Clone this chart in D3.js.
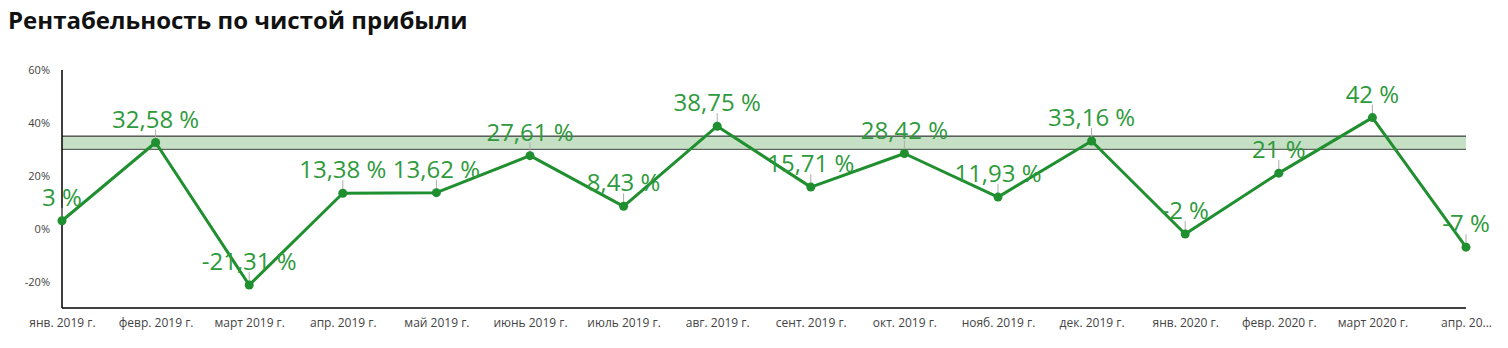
<!DOCTYPE html>
<html>
<head>
<meta charset="utf-8">
<script src="https://cdn.jsdelivr.net/npm/d3@7/dist/d3.min.js"></script>
<style>
  body { margin: 0; background: #fff; }
  svg { display: block; font-family: "Open Sans", "Noto Sans", sans-serif; }
</style>
</head>
<body>
<svg id="chart" width="1508" height="348"></svg>
<script>
// Monthly net profit margin, %
const months = ["янв. 2019 г.", "февр. 2019 г.", "март 2019 г.", "апр. 2019 г.", "май 2019 г.", "июнь 2019 г.",
  "июль 2019 г.", "авг. 2019 г.", "сент. 2019 г.", "окт. 2019 г.", "нояб. 2019 г.", "дек. 2019 г.",
  "янв. 2020 г.", "февр. 2020 г.", "март 2020 г.", "апр. 2020 г."];
const margin = [3, 32.58, -21.31, 13.38, 13.62, 27.61, 8.43, 38.75, 15.71, 28.42, 11.93, 33.16, -2, 21, 42, -7];
const yTicks = [-20, 0, 20, 40, 60];
const targetBand = [30, 35];

const svg = d3.select("#chart");
const plotLeft = 62, plotRight = 1466, plotTop = 70, plotBottom = 308;

const x = d3.scalePoint().domain(months).range([plotLeft, plotRight]);
const y = d3.scaleLinear().domain([-30, 60]).range([plotBottom, plotTop]);

svg.append("text")
  .attr("x", 8).attr("y", 29)
  .attr("font-size", 24).attr("font-weight", 700).attr("fill", "#111")
  .text("Рентабельность по чистой прибыли");

// target band
svg.append("rect")
  .attr("x", plotLeft).attr("width", plotRight - plotLeft)
  .attr("y", y(targetBand[1])).attr("height", y(targetBand[0]) - y(targetBand[1]))
  .attr("fill", "#c6e0c6");
svg.append("line").attr("x1", plotLeft).attr("x2", plotRight)
  .attr("y1", y(targetBand[1])).attr("y2", y(targetBand[1]))
  .attr("stroke", "#111").attr("stroke-width", 1);
svg.append("line").attr("x1", plotLeft).attr("x2", plotRight)
  .attr("y1", y(targetBand[0])).attr("y2", y(targetBand[0]))
  .attr("stroke", "#444").attr("stroke-width", 1);

// y axis
const yAxis = d3.axisLeft(y).tickValues(yTicks).tickSize(0).tickPadding(12).tickFormat(d => d + "%");
const gy = svg.append("g").attr("transform", `translate(${plotLeft},0)`).call(yAxis);
gy.select(".domain").remove();
gy.selectAll("text").attr("font-size", 11).attr("fill", "#444").attr("font-family", "Open Sans");
svg.append("line").attr("x1", plotLeft).attr("x2", plotLeft).attr("y1", plotTop).attr("y2", plotBottom)
  .attr("stroke", "#000").attr("stroke-width", 1.5);

// x axis
const xAxis = d3.axisBottom(x).tickSize(0).tickPadding(10)
  .tickFormat((d, i) => i === months.length - 1 ? "апр. 20..." : d);
const gx = svg.append("g").attr("transform", `translate(0,${plotBottom})`).call(xAxis);
gx.select(".domain").remove();
gx.selectAll("text").attr("font-size", 12).attr("fill", "#444").attr("font-family", "Open Sans");
svg.append("line").attr("x1", plotLeft).attr("x2", plotRight).attr("y1", plotBottom).attr("y2", plotBottom)
  .attr("stroke", "#000").attr("stroke-width", 1.5);

const data = months.map((m, i) => ({ m, v: margin[i] }));

// leader lines
svg.append("g").selectAll("line").data(data).join("line")
  .attr("x1", d => x(d.m)).attr("x2", d => x(d.m))
  .attr("y1", d => y(d.v) - 3).attr("y2", d => y(d.v) - 13)
  .attr("stroke", "#aaa").attr("stroke-width", 1);

// line
svg.append("path").datum(data)
  .attr("d", d3.line().x(d => x(d.m)).y(d => y(d.v)))
  .attr("fill", "none").attr("stroke", "#1f8f2f").attr("stroke-width", 3)
  .attr("stroke-linejoin", "round");

svg.append("g").selectAll("circle").data(data).join("circle")
  .attr("cx", d => x(d.m)).attr("cy", d => y(d.v)).attr("r", 4.5)
  .attr("fill", "#1f8f2f");

// value labels
const fmt = v => String(v).replace(".", ",") + " %";
svg.append("g").selectAll("text").data(data).join("text")
  .attr("x", d => x(d.m)).attr("y", d => y(d.v) - 15)
  .attr("text-anchor", "middle").attr("font-size", 24).attr("fill", "#2e9a3c")
  .text(d => fmt(d.v));
</script>
</body>
</html>
